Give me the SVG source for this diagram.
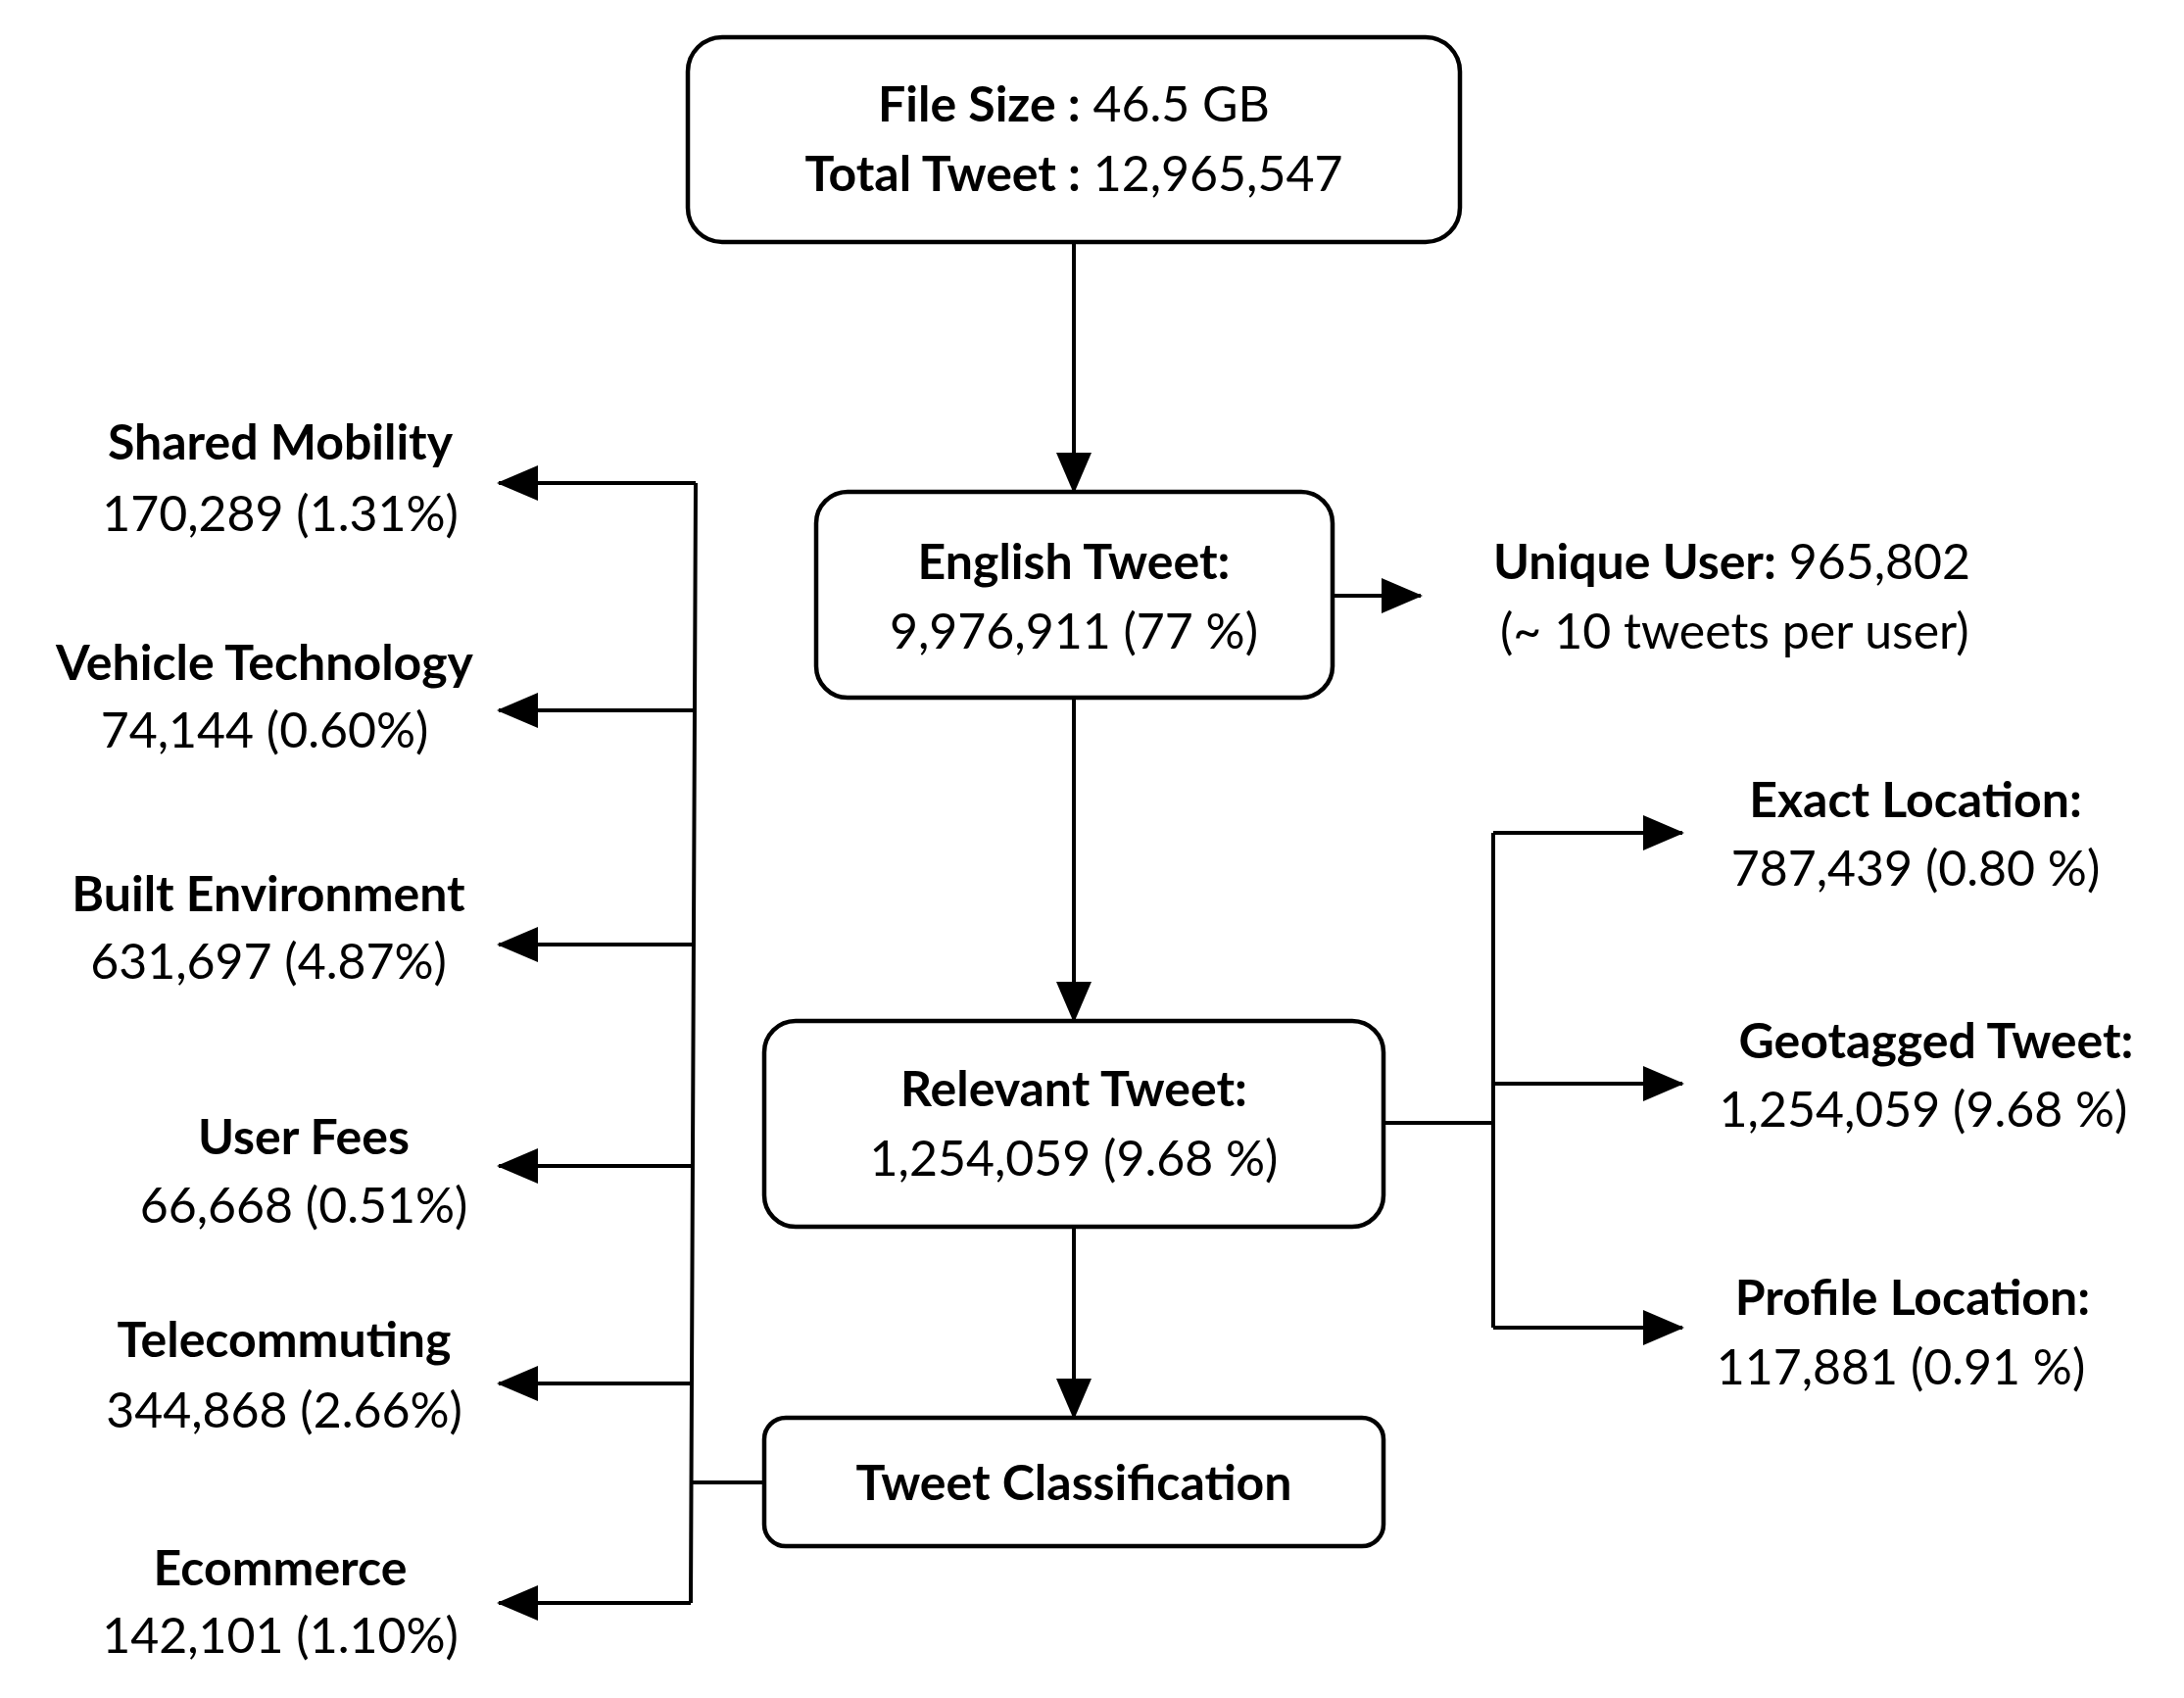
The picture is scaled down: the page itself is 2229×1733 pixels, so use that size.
<svg xmlns="http://www.w3.org/2000/svg" width="2229" height="1733" viewBox="0 0 2229 1733">
<style>
text{font-family:Lato,"Open Sans","Liberation Sans",sans-serif;font-size:50px;fill:#000;text-anchor:middle}
.b{font-weight:bold}
.box{fill:#fff;stroke:#000;stroke-width:4.5}
.ln{fill:none;stroke:#000;stroke-width:4}
.ar{fill:none;stroke:#000;stroke-width:4;marker-end:url(#ah)}
</style>
<defs><marker id="ah" markerUnits="userSpaceOnUse" markerWidth="42" markerHeight="36" refX="40" refY="18" orient="auto"><path d="M0,0 L42,18 L0,36 Z" fill="#000"/></marker></defs>
<rect width="2229" height="1733" fill="#fff"/>
<g id="connectors">
<path class="ar" d="M1096,247 V502"/>
<path class="ar" d="M1360,608 H1450"/>
<path class="ar" d="M1096,712 V1042"/>
<path class="ar" d="M1096,1252 V1447"/>
<path class="ln" d="M1412,1146 H1524 M1524,850 V1355"/>
<path class="ar" d="M1524,850 H1717"/>
<path class="ar" d="M1524,1106 H1717"/>
<path class="ar" d="M1524,1355 H1717"/>
<path class="ln" d="M780,1513 H705 M710,493 L705,1636"/>
<path class="ar" d="M710,493 H509"/>
<path class="ar" d="M709,725 H509"/>
<path class="ar" d="M708,964 H509"/>
<path class="ar" d="M707,1190 H509"/>
<path class="ar" d="M706,1412 H509"/>
<path class="ar" d="M705,1636 H509"/>
</g>
<g id="top"><rect class="box" x="702" y="38" width="788" height="209" rx="35"/>
<text x="1096" y="124"><tspan class="b">File Size :</tspan> 46.5 GB</text>
<text x="1096" y="195"><tspan class="b">Total Tweet :</tspan> 12,965,547</text></g>
<g id="english"><rect class="box" x="833" y="502" width="527" height="210" rx="32"/>
<text x="1096" y="591" class="b">English Tweet:</text>
<text x="1096" y="662">9,976,911  (77 %)</text></g>
<g id="unique"><text x="1524" y="591" style="text-anchor:start"><tspan class="b">Unique User:</tspan> 965,802</text>
<text x="1531" y="662" style="text-anchor:start">(~ 10 tweets per user)</text></g>
<g id="relevant"><rect class="box" x="780" y="1042" width="632" height="210" rx="32"/>
<text x="1096" y="1129" class="b">Relevant Tweet:</text>
<text x="1096" y="1200">1,254,059 (9.68 %)</text></g>
<g id="classification"><rect class="box" x="780" y="1447" width="632" height="131" rx="22"/>
<text x="1096" y="1531" class="b">Tweet Classification</text></g>
<g id="exact"><text x="1955" y="834" class="b">Exact Location:</text><text x="1955" y="904">787,439 (0.80 %)</text></g>
<g id="geo"><text x="1976" y="1080" class="b">Geotagged Tweet:</text><text x="1963" y="1150">1,254,059 (9.68 %)</text></g>
<g id="profile"><text x="1952" y="1342" class="b">Profile Location:</text><text x="1940" y="1413">117,881 (0.91 %)</text></g>
<g id="shared"><text x="286" y="469" class="b">Shared Mobility</text><text x="286" y="542">170,289 (1.31%)</text></g>
<g id="vehicle"><text x="270" y="694" class="b">Vehicle Technology</text><text x="270" y="763">74,144 (0.60%)</text></g>
<g id="built"><text x="274" y="930" class="b">Built Environment</text><text x="274" y="999">631,697 (4.87%)</text></g>
<g id="fees"><text x="310" y="1178" class="b">User Fees</text><text x="310" y="1248">66,668 (0.51%)</text></g>
<g id="tele"><text x="290" y="1385" class="b">Telecommuting</text><text x="290" y="1457">344,868 (2.66%)</text></g>
<g id="ecom"><text x="286" y="1618" class="b">Ecommerce</text><text x="286" y="1687">142,101 (1.10%)</text></g>
</svg>
